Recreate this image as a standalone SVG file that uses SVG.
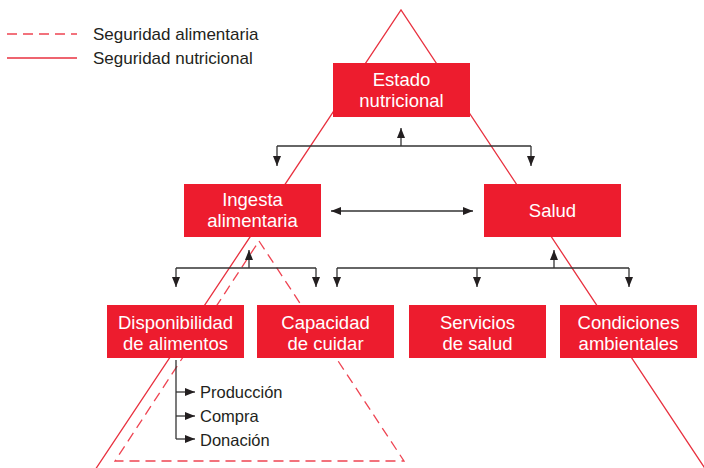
<svg xmlns="http://www.w3.org/2000/svg" width="704" height="468" viewBox="0 0 704 468">
<defs>
<style>
.box{fill:#ED1C2E}
.bt{fill:#fff;font-family:"Liberation Sans",Arial,sans-serif;font-size:18.5px;text-anchor:middle}
.lbl{fill:#231F20;font-family:"Liberation Sans",Arial,sans-serif;font-size:16.5px}
.leg{fill:#231F20;font-family:"Liberation Sans",Arial,sans-serif;font-size:17px}
.sol{fill:none;stroke:#E8313F;stroke-width:1.3}
.dash{fill:none;stroke:#EE4452;stroke-width:1.3;stroke-dasharray:10 6}
.con{fill:none;stroke:#333;stroke-width:1.3}
</style>
<marker id="ah" viewBox="0 0 10 8" refX="10" refY="4" markerWidth="10" markerHeight="8" markerUnits="userSpaceOnUse" orient="auto-start-reverse">
<path d="M0,0 L10,4 L0,8 Z" fill="#231F20"/>
</marker>
</defs>

<g id="legend">
<line x1="7" y1="34" x2="77" y2="34" class="dash"/>
<line x1="7" y1="58" x2="77" y2="58" class="sol"/>
<text x="93" y="40" class="leg">Seguridad alimentaria</text>
<text x="93" y="64" class="leg">Seguridad nutricional</text>
</g>

<g id="triangles">
<polyline points="95,470 401,10 706,470" class="sol"/>
<polygon points="259,241 404,461 115,461" class="dash"/>
</g>

<g id="connectors">
<polyline points="277,146 531,146" class="con"/>
<line x1="401" y1="146" x2="401" y2="128" class="con" marker-end="url(#ah)"/>
<line x1="277" y1="146" x2="277" y2="166" class="con" marker-end="url(#ah)"/>
<line x1="531" y1="146" x2="531" y2="166" class="con" marker-end="url(#ah)"/>
<line x1="331" y1="211" x2="473" y2="211" class="con" marker-start="url(#ah)" marker-end="url(#ah)"/>
<polyline points="176,268 316,268" class="con"/>
<line x1="249" y1="268" x2="249" y2="250" class="con" marker-end="url(#ah)"/>
<line x1="176" y1="268" x2="176" y2="287" class="con" marker-end="url(#ah)"/>
<line x1="316" y1="268" x2="316" y2="287" class="con" marker-end="url(#ah)"/>
<polyline points="337,268 629,268" class="con"/>
<line x1="554" y1="268" x2="554" y2="250" class="con" marker-end="url(#ah)"/>
<line x1="337" y1="268" x2="337" y2="287" class="con" marker-end="url(#ah)"/>
<line x1="477" y1="268" x2="477" y2="287" class="con" marker-end="url(#ah)"/>
<line x1="629" y1="268" x2="629" y2="287" class="con" marker-end="url(#ah)"/>
<polyline points="176,360 176,439" class="con"/>
<line x1="176" y1="392" x2="195" y2="392" class="con" marker-end="url(#ah)"/>
<line x1="176" y1="416" x2="195" y2="416" class="con" marker-end="url(#ah)"/>
<line x1="176" y1="439" x2="195" y2="439" class="con" marker-end="url(#ah)"/>
</g>

<g id="estado">
<rect x="333" y="63" width="137" height="54" class="box"/>
<text x="401.5" y="86" class="bt">Estado</text>
<text x="401.5" y="107" class="bt">nutricional</text>
</g>
<g id="ingesta">
<rect x="184" y="184" width="137" height="53" class="box"/>
<text x="252.5" y="206" class="bt">Ingesta</text>
<text x="252.5" y="227" class="bt">alimentaria</text>
</g>
<g id="salud">
<rect x="484" y="184" width="137" height="53" class="box"/>
<text x="552.5" y="217" class="bt">Salud</text>
</g>
<g id="disponibilidad">
<rect x="107" y="305" width="137" height="53" class="box"/>
<text x="175.5" y="329" class="bt">Disponibilidad</text>
<text x="175.5" y="350" class="bt">de alimentos</text>
</g>
<g id="capacidad">
<rect x="257" y="305" width="137" height="53" class="box"/>
<text x="325.5" y="329" class="bt">Capacidad</text>
<text x="325.5" y="350" class="bt">de cuidar</text>
</g>
<g id="servicios">
<rect x="409" y="305" width="137" height="53" class="box"/>
<text x="477.5" y="329" class="bt">Servicios</text>
<text x="477.5" y="350" class="bt">de salud</text>
</g>
<g id="condiciones">
<rect x="560" y="305" width="137" height="53" class="box"/>
<text x="628.5" y="329" class="bt">Condiciones</text>
<text x="628.5" y="350" class="bt">ambientales</text>
</g>
<g id="lista">
<text x="200" y="398" class="lbl">Producción</text>
<text x="200" y="422" class="lbl">Compra</text>
<text x="200" y="446" class="lbl">Donación</text>
</g>
</svg>
